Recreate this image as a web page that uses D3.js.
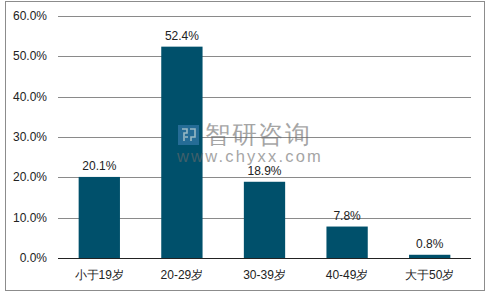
<!DOCTYPE html>
<html>
<head>
<meta charset="utf-8">
<script src="https://cdn.jsdelivr.net/npm/d3@7"></script>
<style>
  body { margin: 0; background: #fff; }
  text { font-family: "Liberation Sans", Arial, sans-serif; }
</style>
</head>
<body>
<svg class="chart" width="493" height="294"></svg>
<script>
const categories = ["小于19岁", "20-29岁", "30-39岁", "40-49岁", "大于50岁"];
const values = [20.1, 52.4, 18.9, 7.8, 0.8];
const yTicks = [0, 10, 20, 30, 40, 50, 60];

const svg = d3.select(".chart");
const plotLeft = 58, plotRight = 471, plotTop = 16, plotBottom = 258;

// outer frame
svg.append("rect")
  .attr("x", 5.5).attr("y", 1.5)
  .attr("width", 479).attr("height", 289)
  .attr("fill", "none").attr("stroke", "#8c8c8c");

const x = d3.scaleBand().domain(categories).range([plotLeft, plotRight])
  .paddingInner(0.5).paddingOuter(0.25);
const y = d3.scaleLinear().domain([0, 60]).range([plotBottom, plotTop]);

// gridlines
svg.append("g")
  .selectAll("line")
  .data(yTicks.slice(1))
  .enter()
  .append("line")
  .attr("x1", plotLeft).attr("x2", plotRight)
  .attr("y1", d => Math.round(y(d)) + 0.5)
  .attr("y2", d => Math.round(y(d)) + 0.5)
  .attr("stroke", "#8a8a8a");

// y tick labels
svg.append("g")
  .selectAll("text")
  .data(yTicks)
  .enter()
  .append("text")
  .attr("x", 47)
  .attr("y", d => y(d) + 4)
  .attr("text-anchor", "end")
  .attr("font-size", 12)
  .attr("fill", "#222")
  .text(d => d.toFixed(1) + "%");

// bars
svg.append("g")
  .selectAll("rect")
  .data(values)
  .enter()
  .append("rect")
  .attr("x", (d, i) => x(categories[i]))
  .attr("y", d => y(d))
  .attr("width", x.bandwidth())
  .attr("height", d => plotBottom - y(d))
  .attr("fill", "#00506b");

// watermark (drawn over the bars, as in the source image)
const wm = svg.append("g").attr("opacity", 0.6);
wm.append("rect").attr("x", 178).attr("y", 125).attr("width", 21).attr("height", 20)
  .attr("fill", "#3f7fb3");
wm.append("path").attr("d", "M182,129h5v4h-3v8 M190,129h5v8h-4v4 M185,137h3")
  .attr("fill", "none").attr("stroke", "#fff").attr("stroke-width", 1.6);
wm.append("text").attr("x", 205).attr("y", 143).attr("font-size", 25)
  .attr("font-family", "Noto Sans CJK SC").attr("fill", "#6a6a6a")
  .attr("letter-spacing", 1.5).text("智研咨询");
wm.append("text").attr("x", 177).attr("y", 162).attr("font-size", 16.5)
  .attr("fill", "#6a6a6a").attr("letter-spacing", 2.2).text("www.chyxx.com");

// value labels
svg.append("g")
  .selectAll("text")
  .data(values)
  .enter()
  .append("text")
  .attr("x", (d, i) => x(categories[i]) + x.bandwidth() / 2)
  .attr("y", d => y(d) - 7)
  .attr("text-anchor", "middle")
  .attr("font-size", 12)
  .attr("fill", "#222")
  .text(d => d.toFixed(1) + "%");

// baseline
svg.append("line")
  .attr("x1", plotLeft).attr("x2", plotRight)
  .attr("y1", plotBottom + 0.5).attr("y2", plotBottom + 0.5)
  .attr("stroke", "#222");

// category labels
svg.append("g")
  .selectAll("text")
  .data(categories)
  .enter()
  .append("text")
  .attr("x", d => x(d) + x.bandwidth() / 2)
  .attr("y", 279)
  .attr("text-anchor", "middle")
  .attr("font-size", 12)
  .attr("fill", "#222")
  .text(d => d);
</script>
</body>
</html>
